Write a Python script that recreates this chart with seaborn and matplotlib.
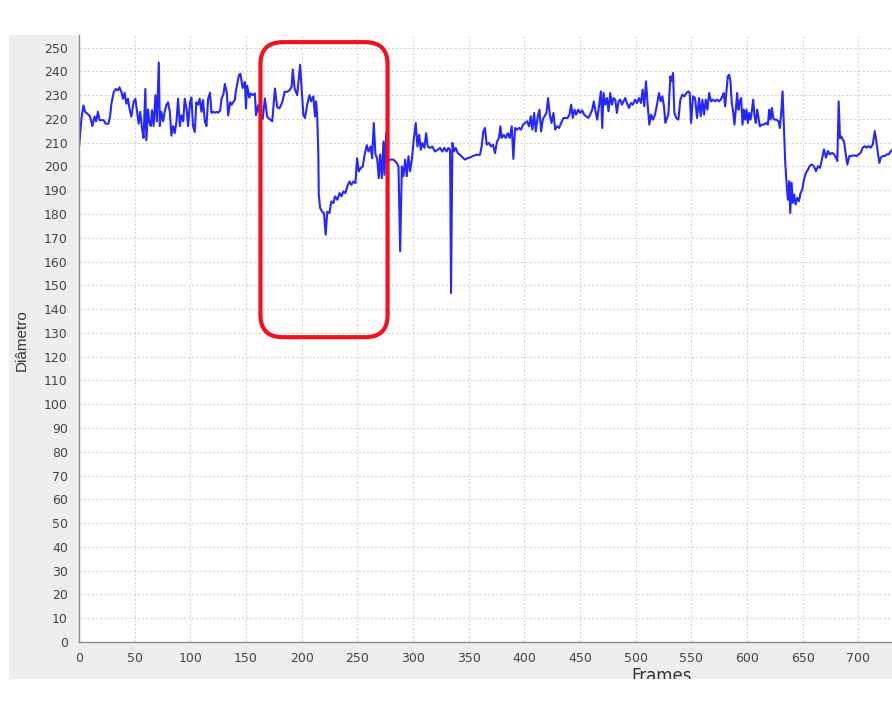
import matplotlib
matplotlib.use("Agg")
import matplotlib.pyplot as plt
from matplotlib.patches import Rectangle, FancyBboxPatch
import seaborn as sns
import pandas as pd

# ---- data ----
frames = [
    0, 1.5, 2.4, 4, 5.4, 8, 10, 12, 14, 15.4, 17, 18.4, 20, 22, 24, 26.5, 28, 29, 31, 33,
    35, 36.4, 38, 39.5, 41, 42.5, 44, 45.5, 47, 49, 50.6, 52, 53.6, 55, 56.6, 58, 59.6, 60.5, 62, 63,
    64.5, 65.6, 67, 68.7, 70, 71.7, 72.6, 74, 75.6, 77, 78.6, 80, 81.6, 83, 84.6, 86, 87.6, 89, 90.6, 92,
    93.6, 95, 96.7, 98, 99.7, 101, 102.4, 104, 105.4, 107, 108.4, 110, 111.4, 113, 114.5, 116, 117.7, 119, 120.8, 122,
    123.8, 125, 126.8, 128, 129.8, 131, 132.8, 134, 135.8, 137,
    140, 141, 143.7, 145, 147, 149, 150, 151, 153, 154, 156, 158, 159, 161, 163, 165, 167, 169, 171, 173.6,
    176, 178, 180, 182.6, 184.7, 186.8, 189, 191, 192, 193.7, 196, 198.6,
    200, 201.5, 203, 205, 207, 208.5, 210.5, 212, 213, 214, 215, 215.4, 216.6, 218.4, 220, 221.6, 223, 225, 226.7, 228.5,
    230, 232, 234, 235.7, 237.5, 239.3, 241, 242.9, 244.7, 246.5, 248.3, 249.8, 251.3, 253, 254.9, 256.6, 258.5, 260, 262, 263.3,
    264.8, 266.3, 267.8, 269.3, 270.5, 272, 273.5, 274.4, 275.9, 277,
    279.5, 282.4, 285.5, 287, 288.5, 290, 291.4, 293, 294.4, 296, 297.4, 299, 300.7, 302.5, 304, 305.6, 307, 308.5, 310.3, 311.8,
    313.3, 315.4, 317.4, 319.8, 322.2, 324.3, 326.4, 328.2, 330.3, 331.8, 333.3, 334.2, 335.4, 336.9, 338.4, 340.2, 342.3, 344.4, 346.8, 349.2,
    351.6, 354.3, 357.2, 360.2, 361.7, 363.2, 364.7, 366.2, 368.3, 370.1, 371.9, 373.7, 375.5, 377.3, 378.5, 379.7, 381.5, 383.3, 385.1, 386.9,
    388.7, 390.2, 391.7, 393.5, 395.3, 397.1, 398.9, 400.7, 402.5, 404.3, 405.8, 407.3, 408.8, 410.3, 412.1, 413.6, 415.1, 416.6, 418.1, 419.9,
    421.4, 422.9, 424.4, 426.2, 427.7, 429.5, 431.3, 433.1, 435.2,
    436.7, 438.8, 440.6, 442.1, 443.6, 445.1, 446.6, 448.4, 450.2, 452, 453.8, 455.6, 457.4, 459.2, 461, 462.5, 464, 465.5, 467.3, 468.8,
    470, 471.2, 472.7, 474.2, 475.7, 477.2, 478.7, 480.2, 481.7, 483.2, 484.7, 486.2, 487.7, 489.2, 490.7, 492.2, 494, 495.8, 497.6, 499.4,
    501.2, 503, 504.8, 506.3, 507.8, 509.3, 510.8, 512.3, 513.8, 515.6, 517.4, 519.2, 521, 522.5, 524, 525.5, 526.7, 528.2, 529.4, 531.2,
    532.4, 533.6, 534.8, 536.6, 538.4, 540.2, 542, 543.8, 545.6, 547.4, 548.6, 549.8, 551.6, 553.4, 555.2, 557, 558.5, 560, 561.5, 563,
    564.5, 566, 567.8, 569.6, 571.4, 573.2, 575, 576.5, 578, 579.2, 580.4, 581.6, 582.8, 584, 585.2, 586.4, 587.6, 588.8, 590, 591.2,
    592.4, 593.6, 594.8, 596, 597.2, 598.4, 599.6, 600.8, 602, 603.2, 604.4, 605.6, 606.8, 608, 609.2, 610.4, 611.6, 613.4, 615.2, 617,
    618.8, 620, 621.2, 622.4, 623.6, 624.8, 626.6, 628.4, 629.6, 630.8, 632, 633.2, 634.4, 635.6, 636.8, 638, 638.9, 640.1, 641.3, 642.5,
    643.7, 645.2, 646.7, 648.2, 649.7, 651.2, 653, 654.8, 656.6, 658.4, 660.2, 662, 663.8, 665.6, 667.4, 669.2, 671, 672.8, 674.6, 676.4,
    678.2, 680, 681.2, 682.4, 683.6, 684.8, 686, 687.2, 689, 690.2, 692, 693.8, 696.2, 698.6, 700.4, 702.2, 704, 705.8, 707.6, 709.4,
    711.2, 713, 714.8, 716, 717.8, 719, 720.2, 722, 723.8, 725.6, 727.4, 729.2, 731,
]
diametro = [
    208, 216, 221, 225.7, 223, 222, 221, 217, 221, 219, 223, 219.5, 219.5, 219.5, 218, 218, 221.5, 226, 231, 232.6,
    232, 233.3, 231.5, 228.5, 231, 226.4, 228.5, 224, 221, 227, 228.5, 223.6, 218, 223, 216, 212, 232.6, 211, 224, 219,
    217, 223.6, 217, 230, 219, 243.7, 217, 223, 219, 223, 226, 227, 223, 213, 217, 214, 219, 228.5, 217, 221.5,
    219, 228.5, 224, 217, 227, 229, 217, 214.5, 227, 226, 228.5, 223, 228, 219, 217, 228.5, 231, 222.6, 223, 222.6,
    223, 222.6, 223.6, 228.5, 230.5, 234.7, 231, 221.5, 227, 226,
    228, 232, 238.5, 239, 233, 235.6, 224.4, 234, 229, 230.7, 230, 230.7, 221.5, 225.8, 221, 220, 228.6, 221, 220, 219,
    232.8, 225, 224.4, 227, 231.4, 231.4, 232, 233.5, 240.8, 232.8, 230, 242.8,
    233, 221.8, 220.4, 226, 230, 227.4, 229.5, 221, 227.4, 221, 205, 188, 182.5, 181, 180.4, 171.3, 181, 180.4, 185.3, 184.6,
    187.4, 186, 188.8, 187.4, 189.5, 188.8, 191.6, 193.7, 192.3, 193.7, 193, 203.5, 197.9, 199.3, 200, 205, 209, 206.3, 208.4, 203.5,
    218.3, 205, 203.5, 195.1, 205, 195.1, 210.5, 196.5, 214, 202,
    202.9, 202.9, 201.5, 200, 164.3, 200, 195.9, 202.9, 195.9, 204.3, 198, 202.9, 211.3, 218.3, 208.4, 213.3, 207, 209.9, 207.8, 214,
    208.4, 207.8, 208.4, 206.3, 207, 207.8, 206.3, 207.8, 206.3, 207.8, 207, 146.8, 209.9, 206.3, 207.8, 205.6, 204.9, 203.9, 202.9, 203.5,
    203.9, 204.5, 204.9, 204.9, 208.4, 214.7, 216.2, 209.2, 209.9, 208.4, 209.2, 205.6, 210.5, 212, 216.9, 212, 213.3, 212, 214, 212,
    216.9, 203.2, 216.2, 215.5, 216.2, 215.5, 217.6, 218.3, 219, 216.9, 221.1, 215.5, 222.5, 214.7, 221.1, 223.9, 214.7, 219.7, 221.1, 222.5,
    228.8, 221.8, 218.3, 222.5, 215.5, 216.9, 216.2, 218.3, 220.4,
    220.4, 220.4, 221.8, 226, 220.4, 223.9, 221.8, 223.9, 222.5, 223.6, 221.8, 221.1, 220.4, 221.8, 223.9, 227.4, 223.2, 219.7, 226, 231.6,
    216.2, 230.9, 226, 228.8, 223.2, 230.9, 226, 228.8, 228.1, 222.5, 227.4, 228.1, 226, 227.4, 228.8, 226.7, 224.6, 226.7, 226, 228.1,
    226.7, 228.8, 226.7, 232.3, 225.3, 235.8, 226, 217.6, 221.8, 219.7, 221.8, 226, 230.9, 227.4, 229.5, 225.3, 218.3, 220.4, 221.8, 237.9,
    235.8, 239.3, 222.5, 220.4, 219.7, 228.1, 230.2, 229.5, 230.9, 231.6, 230.9, 218.3, 229.5, 228.8, 220.4, 228.8, 221.1, 228.1, 221.8, 228.1,
    223.9, 230.9, 227.4, 228.1, 227.4, 228.1, 227.4, 228.1, 229.5, 230.9, 225.3, 231.6, 237.9, 238.6, 235.8, 226.7, 223.2, 217.6, 223.9, 230.9,
    223.9, 227.4, 228.8, 217.6, 223.9, 219.7, 223.9, 218.3, 222.5, 219.7, 223.2, 228.1, 221.1, 218.3, 223.9, 220.4, 216.9, 217.6, 217.6, 218.3,
    217.6, 223.9, 219.7, 224.6, 220.4, 219.7, 219.7, 219, 216.2, 222.5, 231.6, 216.9, 201.5, 193.1, 186, 193.8, 180.4, 193.1, 184.7, 188.2,
    184, 186.8, 185.4, 188.9, 190.3, 194.5, 197.3, 198.7, 200.4, 200.8, 200.1, 198, 200.1, 199.4, 203, 207.2, 203.7, 206.5, 205.1, 205.8,
    205.1, 203.7, 202.3, 227.4, 211.9, 212.6, 211.3, 210.5, 204.4, 200.8, 204.4, 204.4, 204.7, 204.4, 205.1, 205.8, 207.9, 208.6, 207.9, 208.6,
    207.9, 209.2, 214.9, 211.3, 205.1, 201.5, 203.7, 204.4, 204.4, 205.1, 205.1, 206.5, 207.2,
]
x_ticks = list(range(0, 701, 50))
y_ticks = list(range(0, 251, 10))
x_label = "Frames"
y_label = "Diâmetro"
highlight = {"x0": 163, "x1": 277.2, "y0": 128.2, "y1": 252.3}

df = pd.DataFrame({"Frames": frames, "Diametro": diametro})

# ---- figure ----
sns.set_style("white")
plt.rcParams["font.family"] = ["DejaVu Sans"]

W, H = 892, 722
fig = plt.figure(figsize=(W / 100, H / 100), dpi=100)
fig.patch.set_facecolor("white")

bg = Rectangle((9 / W, 1 - 679 / H), 1 - 9 / W, (679 - 35) / H,
               transform=fig.transFigure, facecolor="#eeeeee", edgecolor="none", zorder=-10)
fig.patches.append(bg)

ax = fig.add_axes([79 / W, 1 - 642 / H, 1 - 79 / W, (642 - 35) / H])
ax.set_zorder(1)
ax.set_facecolor("white")

sns.lineplot(data=df, x="Frames", y="Diametro", ax=ax, color="#2626ff",
             linewidth=1.5, estimator=None, sort=False)

ax.set_xlim(0, 730.3)
ax.set_ylim(0, 255.3)
ax.set_xticks(x_ticks)
ax.set_yticks(y_ticks)
ax.grid(True, color="#d4d4d4", linestyle=(0, (2, 2)), linewidth=0.75)
ax.set_axisbelow(True)

for s in ["top", "right"]:
    ax.spines[s].set_visible(False)
for s in ["left", "bottom"]:
    ax.spines[s].set_color("#8c8c8c")
    ax.spines[s].set_linewidth(1.0)

ax.tick_params(axis="both", which="major", direction="out", length=4, width=1,
               color="#8c8c8c", labelcolor="#444444", labelsize=9)
ax.tick_params(axis="y", pad=4)
ax.tick_params(axis="x", pad=3)
ax.set_xlabel("")
ax.set_ylabel("")

# red rounded highlight box
rx = 20.0
aspect = 9.3 / 20.0
box = FancyBboxPatch((highlight["x0"], highlight["y0"]),
                     highlight["x1"] - highlight["x0"], highlight["y1"] - highlight["y0"],
                     boxstyle=f"round,pad=0,rounding_size={rx}", mutation_aspect=aspect,
                     facecolor="none", edgecolor="#f5101e", linewidth=3, zorder=5,
                     clip_on=False)
ax.add_patch(box)

fig.text(22 / W, 1 - 340 / H, y_label, rotation=90, ha="center", va="center",
         fontsize=11, color="#333333", family=["Liberation Sans", "DejaVu Sans"])
t = fig.text(662 / W, 1 - 667 / H, x_label, ha="center", va="top",
             fontsize=12, color="#333333", clip_on=True)
t.set_clip_path(bg)

fig.savefig("out.png", dpi=100, facecolor="white")
